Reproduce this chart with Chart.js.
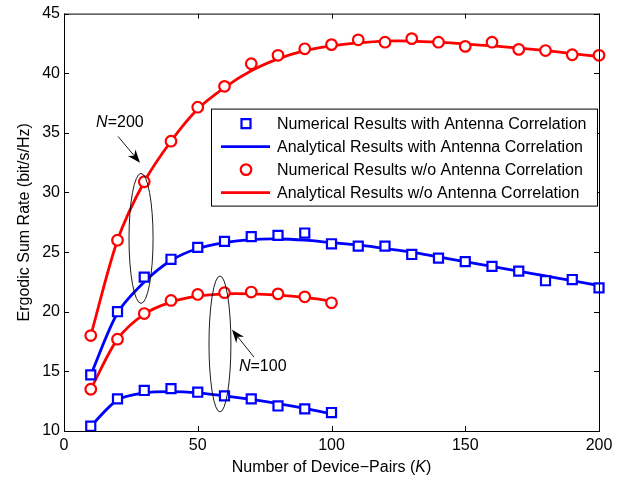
<!DOCTYPE html>
<html>
<head>
<meta charset="utf-8">
<script src="https://cdn.jsdelivr.net/npm/chart.js@4.4.0/dist/chart.umd.min.js"></script>
<style>
  html, body { margin: 0; padding: 0; background: #fff; }
  #wrap { width: 624px; height: 477px; }
</style>
</head>
<body>
<div id="wrap"><canvas id="chart" width="624" height="477"></canvas></div>
<script>
// ---------------------------
// DATA
// ---------------------------
const kLong = [10, 20, 30, 40, 50, 60, 70, 80, 90, 100, 110, 120, 130, 140, 150, 160, 170, 180, 190, 200];
const kShort = [10, 20, 30, 40, 50, 60, 70, 80, 90, 100];

// N = 200
const numCorr200   = [14.7, 20.0, 22.9, 24.4, 25.4, 25.9, 26.3, 26.4, 26.6, 25.7, 25.5, 25.5, 24.8, 24.5, 24.2, 23.8, 23.4, 22.6, 22.7, 22.0];
const anaCorr200   = [14.7, 19.9, 22.5, 24.3, 25.3, 25.8, 26.05, 26.1, 26.0, 25.8, 25.6, 25.3, 25.0, 24.6, 24.2, 23.8, 23.4, 23.0, 22.6, 22.2];
const numNoCorr200 = [18.0, 26.0, 30.9, 34.3, 37.15, 38.9, 40.8, 41.5, 42.05, 42.4, 42.8, 42.6, 42.9, 42.6, 42.25, 42.6, 42.0, 41.9, 41.55, 41.5];
const anaNoCorr200 = [18.0, 26.0, 30.9, 34.3, 37.0, 38.8, 40.2, 41.2, 41.9, 42.3, 42.55, 42.7, 42.7, 42.6, 42.45, 42.3, 42.1, 41.9, 41.65, 41.4];

// N = 100
const numCorr100   = [10.4, 12.7, 13.4, 13.55, 13.25, 12.95, 12.7, 12.1, 11.85, 11.55];
const anaCorr100   = [10.4, 12.6, 13.2, 13.3, 13.2, 12.95, 12.65, 12.3, 11.9, 11.45];
const numNoCorr100 = [13.5, 17.7, 19.85, 20.95, 21.45, 21.6, 21.65, 21.5, 21.25, 20.75];
const anaNoCorr100 = [13.5, 17.7, 19.8, 20.8, 21.3, 21.5, 21.5, 21.4, 21.2, 20.9];

const xTicks = [0, 50, 100, 150, 200];
const yTicks = [10, 15, 20, 25, 30, 35, 40, 45];

const legendLabels = [
  'Numerical Results with Antenna Correlation',
  'Analytical Results with Antenna Correlation',
  'Numerical Results w/o Antenna Correlation',
  'Analytical Results w/o Antenna Correlation'
];

// annotation anchors, in data units
const ellipse200 = { x: 28.8, y: 26.15, rx: 4.5, ry: 5.45 };
const ellipse100 = { x: 58.3, y: 17.3, rx: 4.1, ry: 5.7 };
const arrow200 = { x0: 20.2, y0: 34.7, x1: 28.4, y1: 32.5, tx: 12, ty: 35.9, label: '200' };
const arrow100 = { x0: 71.0, y0: 16.2, x1: 62.8, y1: 18.5, tx: 65.4, ty: 15.4, label: '100' };

const BLUE = '#0000ff';
const RED = '#ff0000';
const FONT = "'Liberation Sans', Arial, sans-serif";
const FS = 16;

const pts = (xs, ys) => xs.map((v, i) => ({ x: v, y: ys[i] }));

function lineSet(data, color) {
  return {
    data: data, borderColor: color, borderWidth: 2.8, pointRadius: 0,
    tension: 0.3, fill: false, order: 2
  };
}
function markSet(data, color, style, radius) {
  return {
    data: data, showLine: false, borderColor: color, backgroundColor: '#fff',
    pointStyle: style, pointRadius: radius, pointBorderWidth: 2.2,
    order: 1, clip: false
  };
}

// ---------------------------
// PLUGIN: box, ticks, notes, legend, titles
// ---------------------------
const decor = {
  id: 'decor',
  afterDraw(chart) {
    const { ctx, chartArea: a, scales: { x, y } } = chart;
    ctx.save();

    // axes box + inward ticks
    ctx.strokeStyle = '#000';
    ctx.lineWidth = 1;
    ctx.strokeRect(a.left + 0.5, a.top + 0.5, a.right - a.left, a.bottom - a.top);
    ctx.beginPath();
    xTicks.forEach(v => {
      const px = Math.round(x.getPixelForValue(v)) + 0.5;
      ctx.moveTo(px, a.bottom); ctx.lineTo(px, a.bottom - 5);
      ctx.moveTo(px, a.top); ctx.lineTo(px, a.top + 5);
    });
    yTicks.forEach(v => {
      const py = Math.round(y.getPixelForValue(v)) + 0.5;
      ctx.moveTo(a.left, py); ctx.lineTo(a.left + 5, py);
      ctx.moveTo(a.right, py); ctx.lineTo(a.right - 5, py);
    });
    ctx.stroke();

    // ellipses
    ctx.lineWidth = 0.9;
    [ellipse200, ellipse100].forEach(e => {
      const cx = x.getPixelForValue(e.x), cy = y.getPixelForValue(e.y);
      const rx = x.getPixelForValue(e.x + e.rx) - cx;
      const ry = cy - y.getPixelForValue(e.y + e.ry);
      ctx.beginPath();
      ctx.ellipse(cx, cy, rx, ry, 0, 0, Math.PI * 2);
      ctx.stroke();
    });

    // arrows + labels
    [arrow200, arrow100].forEach(ar => {
      const x0 = x.getPixelForValue(ar.x0), y0 = y.getPixelForValue(ar.y0);
      const x1 = x.getPixelForValue(ar.x1), y1 = y.getPixelForValue(ar.y1);
      const ang = Math.atan2(y1 - y0, x1 - x0);
      const len = 13, half = 5;
      const bx = x1 - len * Math.cos(ang), by = y1 - len * Math.sin(ang);
      const nx = x1 - len * 0.7 * Math.cos(ang), ny = y1 - len * 0.7 * Math.sin(ang);
      ctx.lineWidth = 0.9;
      ctx.beginPath();
      ctx.moveTo(x0, y0); ctx.lineTo(nx, ny);
      ctx.stroke();
      ctx.fillStyle = '#000';
      ctx.beginPath();
      ctx.moveTo(x1, y1);
      ctx.lineTo(bx + half * Math.sin(ang), by - half * Math.cos(ang));
      ctx.lineTo(nx, ny);
      ctx.lineTo(bx - half * Math.sin(ang), by + half * Math.cos(ang));
      ctx.closePath();
      ctx.fill();

      const tx = x.getPixelForValue(ar.tx), ty = y.getPixelForValue(ar.ty);
      ctx.textBaseline = 'middle';
      ctx.textAlign = 'left';
      ctx.font = 'italic ' + FS + 'px ' + FONT;
      ctx.fillText('N', tx, ty);
      const w = ctx.measureText('N').width;
      ctx.font = FS + 'px ' + FONT;
      ctx.fillText('=' + ar.label, tx + w, ty);
    });

    // legend
    const L = { left: a.left + 147, top: a.top + 95, w: 386, h: 97 };
    ctx.fillStyle = '#fff';
    ctx.fillRect(L.left, L.top, L.w, L.h);
    ctx.strokeStyle = '#000';
    ctx.lineWidth = 1;
    ctx.strokeRect(L.left + 0.5, L.top + 0.5, L.w, L.h);
    const rowY = [15, 38, 61, 84];
    const kinds = [
      { c: BLUE, t: 'rect' }, { c: BLUE, t: 'line' },
      { c: RED, t: 'circle' }, { c: RED, t: 'line' }
    ];
    kinds.forEach((k, i) => {
      const ry = L.top + rowY[i];
      const mx = L.left + 35;
      ctx.strokeStyle = k.c;
      if (k.t === 'line') {
        ctx.lineWidth = 2.8;
        ctx.beginPath();
        ctx.moveTo(L.left + 10, ry); ctx.lineTo(L.left + 59, ry);
        ctx.stroke();
      } else {
        ctx.lineWidth = 2.2;
        ctx.beginPath();
        if (k.t === 'rect') ctx.rect(mx - 4.5, ry - 4.5, 9, 9);
        else ctx.arc(mx, ry, 5.3, 0, Math.PI * 2);
        ctx.stroke();
      }
      ctx.fillStyle = '#000';
      ctx.font = FS + 'px ' + FONT;
      ctx.textAlign = 'left';
      ctx.textBaseline = 'middle';
      ctx.fillText(legendLabels[i], L.left + 66, ry + 1);
    });

    // axis titles
    ctx.fillStyle = '#000';
    const t1 = 'Number of Device\u2212Pairs (';
    ctx.font = FS + 'px ' + FONT;
    const w1 = ctx.measureText(t1).width;
    ctx.font = 'italic ' + FS + 'px ' + FONT;
    const w2 = ctx.measureText('K').width;
    ctx.font = FS + 'px ' + FONT;
    const w3 = ctx.measureText(')').width;
    const sx = (a.left + a.right) / 2 - (w1 + w2 + w3) / 2;
    const sy = 468;
    ctx.textAlign = 'left';
    ctx.textBaseline = 'middle';
    ctx.fillText(t1, sx, sy);
    ctx.font = 'italic ' + FS + 'px ' + FONT;
    ctx.fillText('K', sx + w1, sy);
    ctx.font = FS + 'px ' + FONT;
    ctx.fillText(')', sx + w1 + w2, sy);

    ctx.translate(25, (a.top + a.bottom) / 2);
    ctx.rotate(-Math.PI / 2);
    ctx.textAlign = 'center';
    ctx.fillText('Ergodic Sum Rate (bit/s/Hz)', 0, 0);
    ctx.restore();
  }
};

Chart.defaults.font.family = FONT;
Chart.defaults.font.size = FS;
Chart.defaults.color = '#000';

new Chart(document.getElementById('chart'), {
  type: 'line',
  data: {
    datasets: [
      markSet(pts(kLong, numCorr200), BLUE, 'rect', 6.4),
      lineSet(pts(kLong, anaCorr200), BLUE),
      markSet(pts(kLong, numNoCorr200), RED, 'circle', 5.3),
      lineSet(pts(kLong, anaNoCorr200), RED),
      markSet(pts(kShort, numCorr100), BLUE, 'rect', 6.4),
      lineSet(pts(kShort, anaCorr100), BLUE),
      markSet(pts(kShort, numNoCorr100), RED, 'circle', 5.3),
      lineSet(pts(kShort, anaNoCorr100), RED)
    ]
  },
  options: {
    responsive: false,
    animation: false,
    layout: { padding: { top: 12, right: 25, left: 0, bottom: 0 } },
    plugins: { legend: { display: false }, tooltip: { enabled: false } },
    scales: {
      x: {
        type: 'linear', min: 0, max: 200,
        grid: { display: false, drawTicks: false },
        border: { display: false },
        ticks: { stepSize: 50, padding: 5, maxRotation: 0 },
        afterFit(s) { s.height = 46; }
      },
      y: {
        min: 10, max: 45,
        grid: { display: false, drawTicks: false },
        border: { display: false },
        ticks: { stepSize: 5, padding: 4 },
        afterFit(s) { s.width = 64; }
      }
    }
  },
  plugins: [decor]
});
</script>
</body>
</html>
